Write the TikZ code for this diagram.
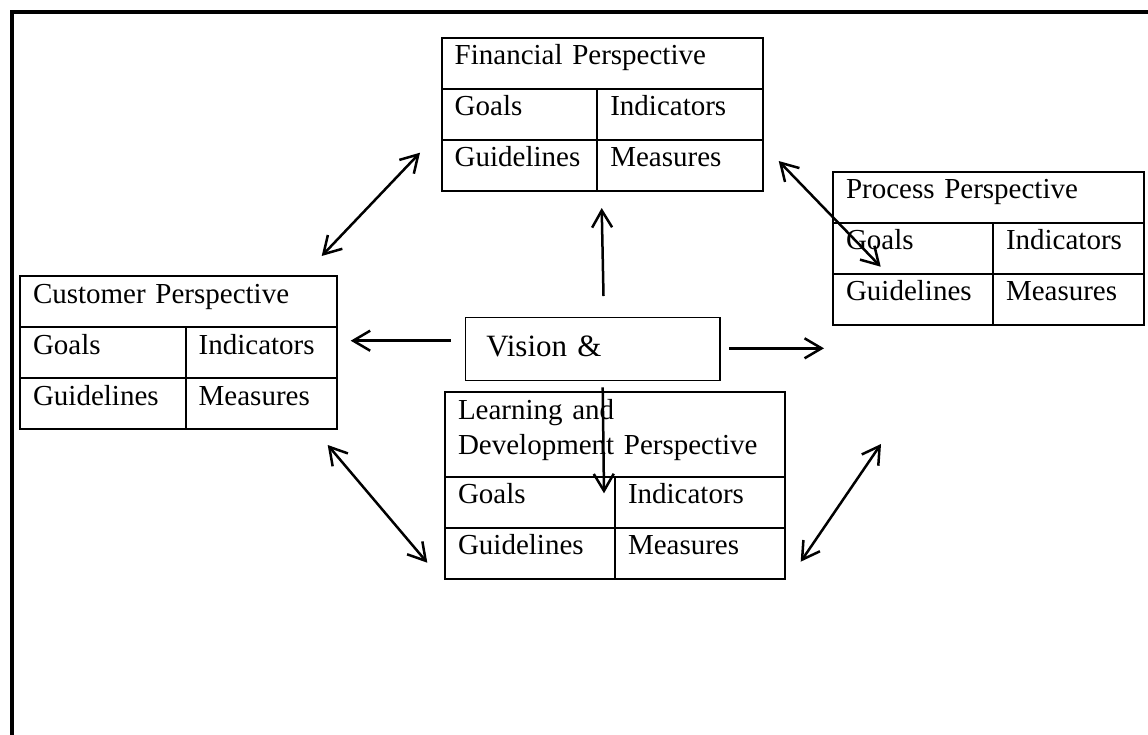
\documentclass[tikz,border=0pt]{standalone}
\usepackage{fontspec}
\setmainfont{Liberation Serif}
\usetikzlibrary{arrows.meta,positioning}

\tikzset{
  cell/.style={draw, line width=2pt, anchor=north west, outer sep=0pt,
    inner xsep=13pt, inner ysep=6pt, text height=21pt, text depth=18pt,
    align=left, font=\fontsize{29}{34.7}\selectfont},
  vision/.style={draw, line width=1.5pt, anchor=north west, outer sep=0pt,
    inner xsep=21pt, inner ysep=8pt, text width=212.7pt, text height=31.4pt,
    text depth=16pt, align=left, font=\fontsize{31}{37}\selectfont},
  link/.style={line width=2.5pt},
  >={Straight Barb[length=17pt,width=20pt]}
}

\begin{document}
\begin{tikzpicture}[x=1pt, y=-1pt]
\useasboundingbox (0,0) rectangle (1148,734);
% frame
\draw [line width=4pt] (11.5,740) -- (11.5,11.5) -- (1160,11.5);

% financial
\node [cell, text width=295pt] (finT) at (441.7,37.7) {Financial Perspective};
\node [cell, text width=129.6pt] (finG) at (finT.south west) {Goals};
\node [cell, text width=139.4pt] (finI) at (finG.north east) {Indicators};
\node [cell, text width=129.6pt] (finGl) at (finG.south west) {Guidelines};
\node [cell, text width=139.4pt] (finM) at (finGl.north east) {Measures};

% process
\node [cell, text width=285pt] (proT) at (833,171.7) {Process Perspective};
\node [cell, text width=134pt] (proG) at (proT.south west) {Goals};
\node [cell, text width=125pt] (proI) at (proG.north east) {Indicators};
\node [cell, text width=134pt] (proGl) at (proG.south west) {Guidelines};
\node [cell, text width=125pt] (proM) at (proGl.north east) {Measures};

% customer
\node [cell, text width=291.3pt] (cusT) at (20,276) {Customer Perspective};
\node [cell, text width=139.7pt] (cusG) at (cusT.south west) {Goals};
\node [cell, text width=125.6pt] (cusI) at (cusG.north east) {Indicators};
\node [cell, text width=139.7pt] (cusGl) at (cusG.south west) {Guidelines};
\node [cell, text width=125.6pt] (cusM) at (cusGl.north east) {Measures};

% learning
\node [cell, text width=314pt, text depth=51.4pt] (leaT) at (445,392.3)
  {Learning and\\Development Perspective};
\node [cell, text width=144pt] (leaG) at (leaT.south west) {Goals};
\node [cell, text width=144pt] (leaI) at (leaG.north east) {Indicators};
\node [cell, text width=144pt] (leaGl) at (leaG.south west) {Guidelines};
\node [cell, text width=144pt] (leaM) at (leaGl.north east) {Measures};

% vision
\node [vision] (vis) at (465.3,317.3) {Vision \&};

% arrow ends
\coordinate (visUp) at (603.5,296);
\coordinate (finIn) at (601.7,208);
\coordinate (visLeft) at (450.7,340.7);
\coordinate (cusIn) at (350.7,340.7);
\coordinate (visRight) at (729.3,348.3);
\coordinate (proIn) at (824,348.3);
\coordinate (visDown) at (602.7,387.3);
\coordinate (leaIn) at (604,493.3);
\coordinate (cusFin) at (321.7,256);
\coordinate (finCus) at (420,152.7);
\coordinate (finPro) at (778.7,161);
\coordinate (proFin) at (880.7,266.7);
\coordinate (cusLea) at (327.7,445);
\coordinate (leaCus) at (427.3,562.7);
\coordinate (leaPro) at (800.7,561.7);
\coordinate (proLea) at (881,444);

\draw [link, ->] (visUp) -- (finIn);
\draw [link, ->] (visLeft) -- (cusIn);
\draw [link, ->] (visRight) -- (proIn);
\draw [link, ->] (visDown) -- (leaIn);
\draw [link, <->] (cusFin) -- (finCus);
\draw [link, <->] (finPro) -- (proFin);
\draw [link, <->] (cusLea) -- (leaCus);
\draw [link, <->] (leaPro) -- (proLea);
\end{tikzpicture}
\end{document}
